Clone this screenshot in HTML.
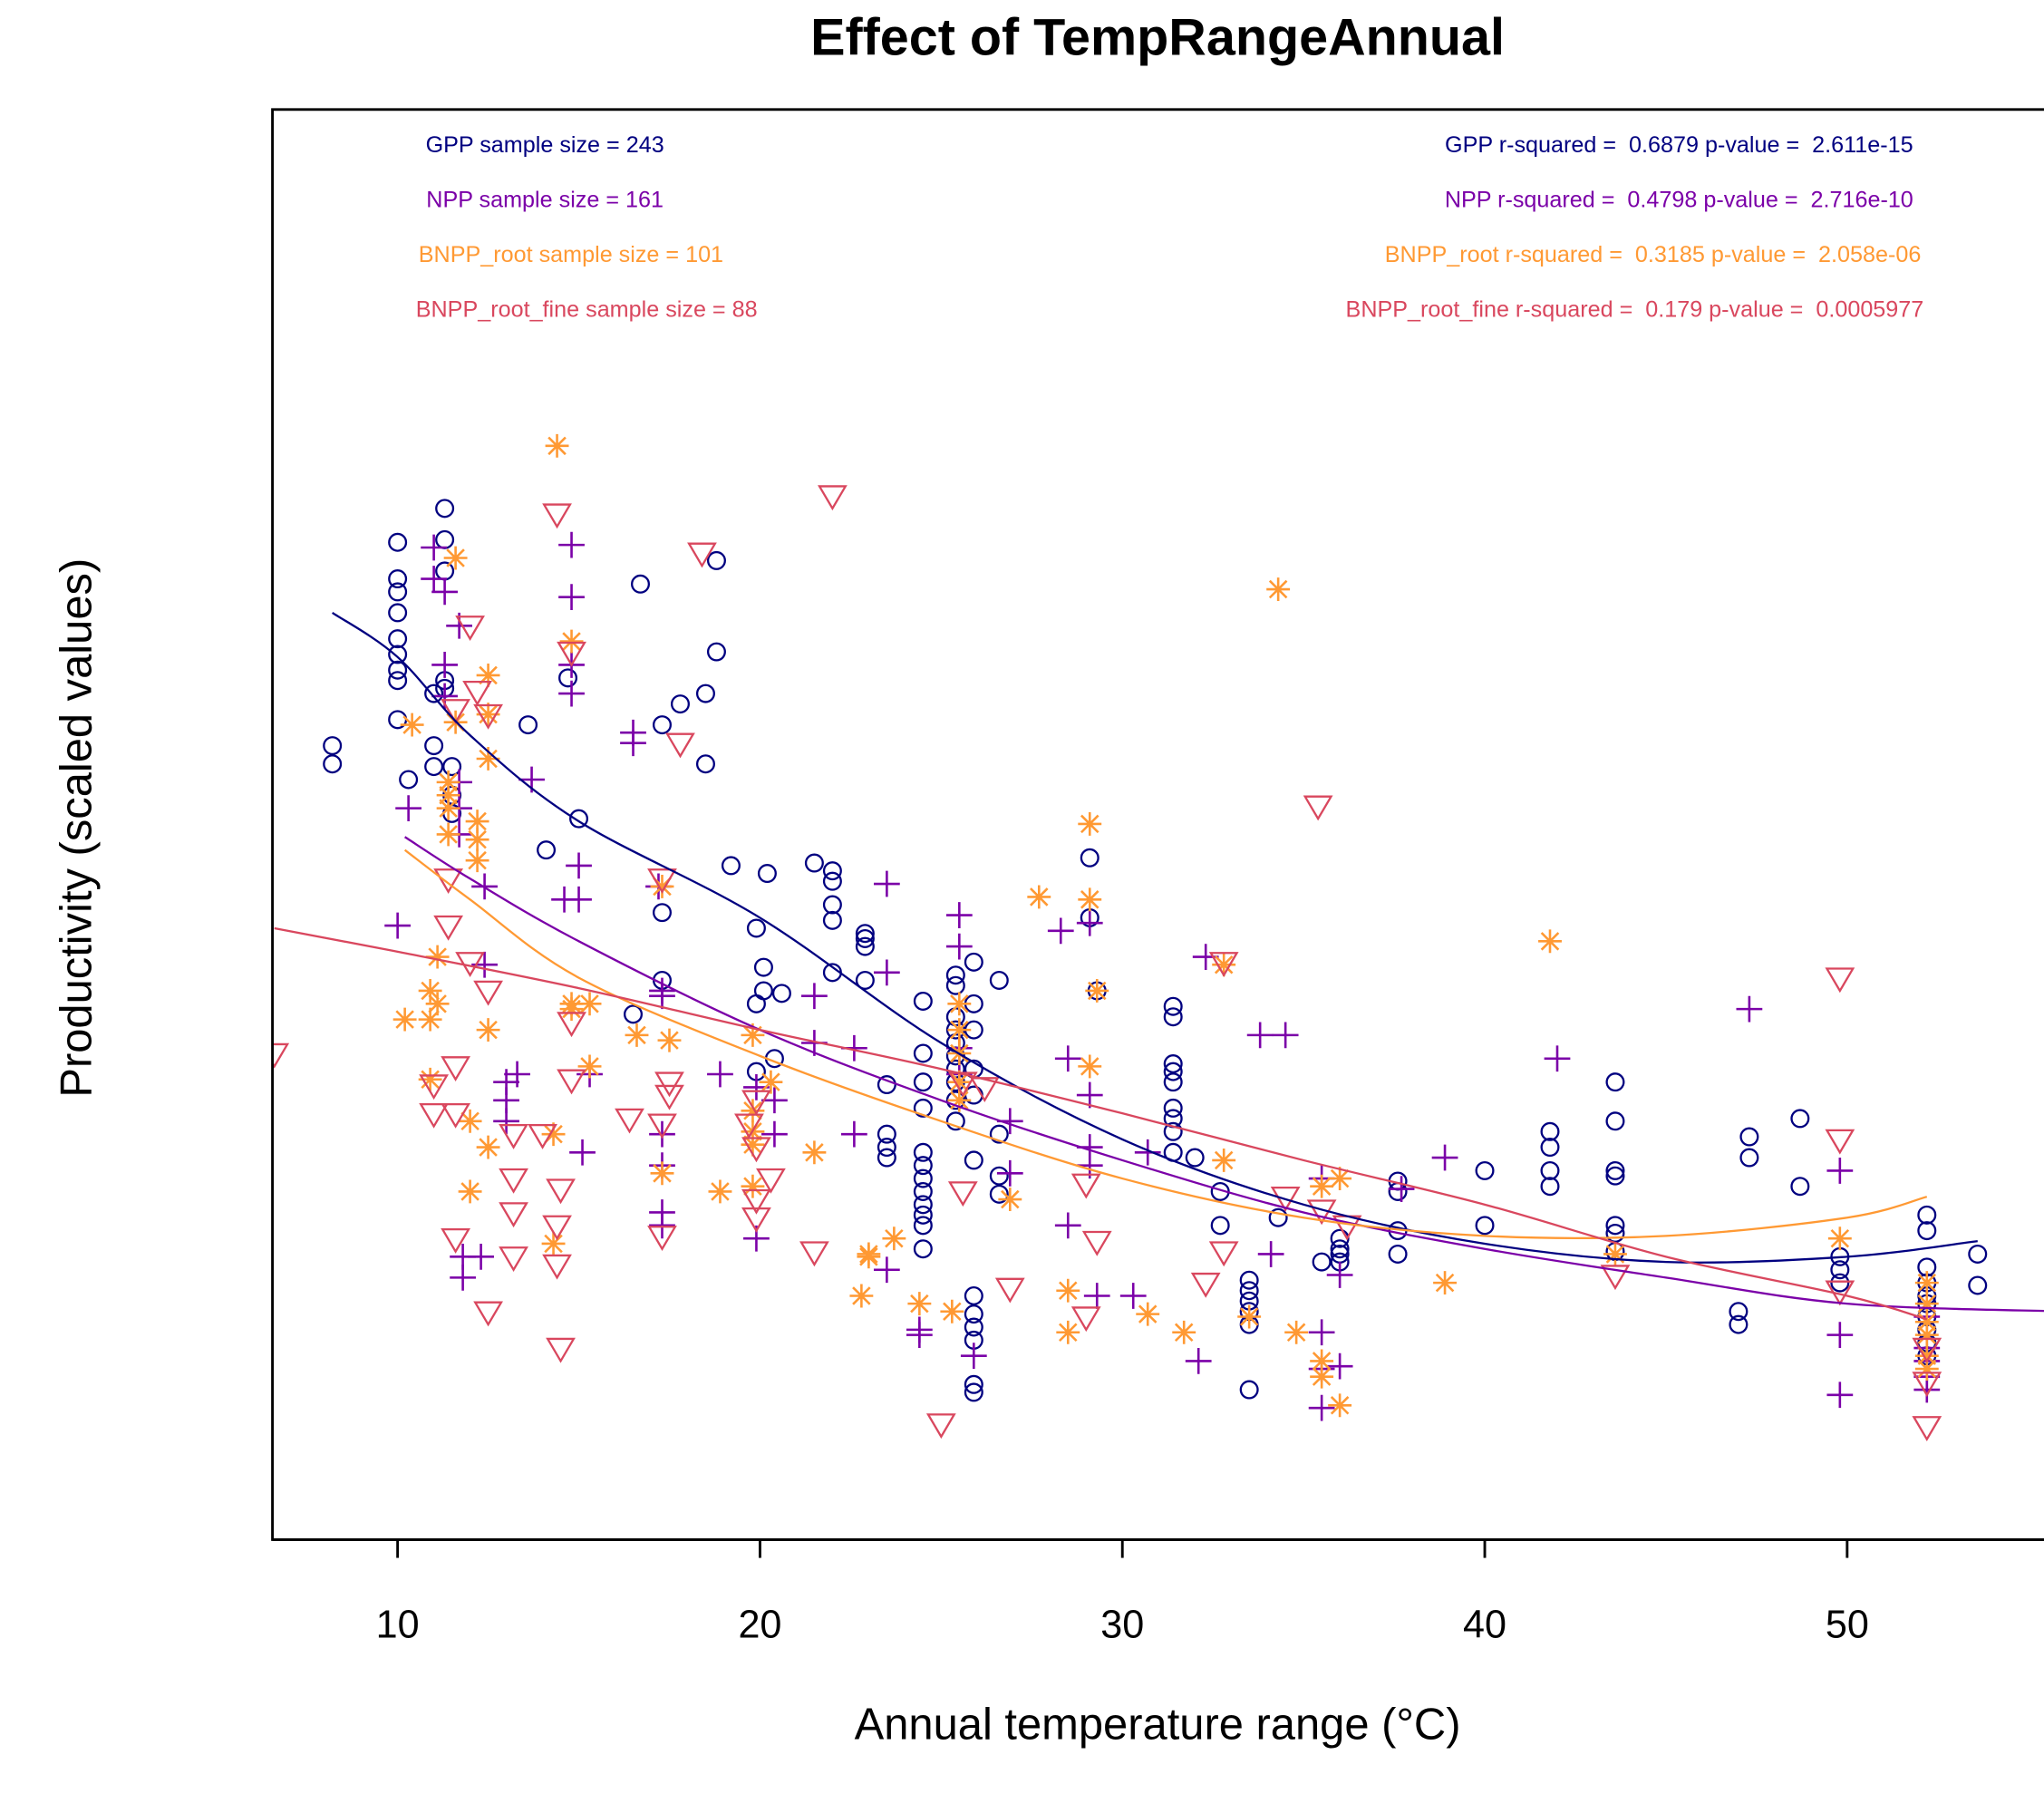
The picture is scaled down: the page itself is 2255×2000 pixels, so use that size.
<!DOCTYPE html>
<html><head><meta charset="utf-8"><style>
html,body{margin:0;padding:0;background:#fff}
svg{display:block;font-family:"Liberation Sans",sans-serif}
.pre{white-space:pre}
</style></head><body>
<svg id="chart" width="2255" height="2000" viewBox="0 0 1568 1390.7" xmlns="http://www.w3.org/2000/svg">
<rect width="1568" height="1391" fill="#fff"/>
<text x="888" y="42" font-size="40" font-weight="bold" text-anchor="middle">Effect of TempRangeAnnual</text>
<text x="888" y="1334" font-size="34" text-anchor="middle">Annual temperature range (°C)</text>
<text transform="translate(70,635) rotate(-90)" font-size="34" text-anchor="middle">Productivity (scaled values)</text>
<defs><clipPath id="clip"><rect x="209" y="84" width="1359" height="1097"/></clipPath></defs>
<g id="marks" clip-path="url(#clip)"></g>
<g id="curves" clip-path="url(#clip)"></g>
<g id="axis"></g>
<rect x="209" y="84" width="1400" height="1097" fill="none" stroke="#000" stroke-width="2"/>
<g font-size="17.5" class="pre">
<text class="pre" x="418" y="117" fill="#000080" text-anchor="middle">GPP sample size = 243</text>
<text class="pre" x="418" y="159" fill="#7b00a8" text-anchor="middle">NPP sample size = 161</text>
<text class="pre" x="438" y="201" fill="#ff9933" text-anchor="middle">BNPP_root sample size = 101</text>
<text class="pre" x="450" y="243" fill="#d9475e" text-anchor="middle">BNPP_root_fine sample size = 88</text>
<text class="pre" x="1288" y="117" fill="#000080" text-anchor="middle">GPP r-squared =  0.6879 p-value =  2.611e-15</text>
<text class="pre" x="1288" y="159" fill="#7b00a8" text-anchor="middle">NPP r-squared =  0.4798 p-value =  2.716e-10</text>
<text class="pre" x="1268" y="201" fill="#ff9933" text-anchor="middle">BNPP_root r-squared =  0.3185 p-value =  2.058e-06</text>
<text class="pre" x="1254" y="243" fill="#d9475e" text-anchor="middle">BNPP_root_fine r-squared =  0.179 p-value =  0.0005977</text>
</g>
</svg>
<script>
const xTicks=[10,20,30,40,50];
const gppX=[8.2,8.2,10,10,10,10,10,10,10,10,10,10.3,11,11,11,11.3,11.3,11.3,11.3,11.3,11.5,11.5,11.5,13.6,14.1,14.7,15,16.5,16.7,17.3,17.3,17.3,17.8,18.5,18.5,18.8,18.8,19.2,19.9,19.9,19.9,20.1,20.1,20.2,20.4,20.6,21.5,22,22,22,22,22,22.9,22.9,22.9,22.9,23.5,23.5,23.5,23.5,24.5,24.5,24.5,24.5,24.5,24.5,24.5,24.5,24.5,24.5,24.5,24.5,25.4,25.4,25.4,25.4,25.4,25.4,25.4,25.4,25.4,25.4,25.9,25.9,25.9,25.9,25.9,25.9,25.9,25.9,25.9,25.9,25.9,25.9,26.6,26.6,26.6,26.6,29.1,29.1,29.3,31.4,31.4,31.4,31.4,31.4,31.4,31.4,31.4,31.4,32,32.7,32.7,33.5,33.5,33.5,33.5,33.5,33.5,34.3,35.5,36,36,36,36,37.6,37.6,37.6,37.6,40,40,41.8,41.8,41.8,41.8,43.6,43.6,43.6,43.6,43.6,43.6,43.6,47,47,47.3,47.3,48.7,48.7,49.8,49.8,49.8,52.2,52.2,52.2,52.2,52.2,52.2,52.2,52.2,52.2,52.2,53.6,53.6];
const gppY=[2.39,2.32,3.17,3.03,2.98,2.9,2.8,2.74,2.68,2.64,2.49,2.26,2.59,2.39,2.31,3.3,3.18,3.06,2.64,2.61,2.31,2.2,2.13,2.47,1.99,2.65,2.11,1.36,3.01,2.47,1.75,1.49,2.55,2.59,2.32,3.1,2.75,1.93,1.69,1.4,1.14,1.54,1.45,1.9,1.19,1.44,1.94,1.91,1.87,1.78,1.72,1.52,1.67,1.65,1.62,1.49,1.09,0.9,0.85,0.81,1.41,1.21,1.1,1,0.83,0.78,0.73,0.68,0.63,0.59,0.55,0.46,1.51,1.47,1.35,1.3,1.25,1.2,1.15,1.1,1.03,0.95,1.56,1.4,1.3,1.15,1.05,0.8,0.28,0.21,0.16,0.11,-0.06,-0.09,1.49,0.9,0.74,0.67,1.96,1.73,1.45,1.39,1.35,1.17,1.14,1.1,1,0.96,0.91,0.83,0.81,0.68,0.55,0.34,0.3,0.26,0.22,0.17,-0.08,0.58,0.41,0.5,0.46,0.44,0.41,0.72,0.68,0.53,0.44,0.76,0.55,0.91,0.85,0.76,0.7,1.1,0.95,0.76,0.74,0.55,0.52,0.45,0.22,0.17,0.89,0.81,0.96,0.7,0.43,0.38,0.33,0.59,0.53,0.39,0.33,0.28,0.25,0.2,0.15,0.1,0.05,0.44,0.32];
const nppX=[10,10.3,11,11,11.3,11.3,11.3,11.7,11.7,11.7,11.7,12.4,12.4,13,13,13,11.8,11.8,12.3,13.7,14.6,15,15,14.8,14.8,14.8,14.8,15.1,15.3,13.3,16.5,16.5,17.3,17.3,17.3,17.3,17.3,17.3,17.2,18.9,19.9,19.9,20.4,20.4,21.5,21.5,22.6,22.6,23.5,23.5,23.5,24.4,24.4,25.5,25.5,25.5,25.5,25.9,26.9,26.9,28.3,28.5,28.5,29.1,29.1,29.1,29.1,29.3,30.3,30.7,32.3,32.1,33.8,34.5,34.1,35.5,35.5,35.5,35.5,36,36,37.7,38.9,42,47.3,49.8,49.8,49.8,52.2,52.2,52.2,52.2,52.2];
const nppY=[1.7,2.15,3.15,3.03,2.98,2.7,2.58,2.85,2.25,2.15,2.05,1.85,1.55,1.1,1.03,0.95,0.43,0.35,0.43,2.26,1.8,1.93,1.8,3.16,2.96,2.7,2.59,0.83,1.13,1.13,2.44,2.4,1.45,1.43,0.9,0.78,0.6,0.55,1.85,1.13,1.08,0.5,1.03,0.9,1.43,1.25,1.23,0.9,1.86,1.52,0.38,0.15,0.13,1.74,1.62,1.23,1.13,0.05,0.95,0.75,1.68,1.19,0.55,1.71,1.05,0.85,0.78,0.28,0.28,0.83,1.58,0.03,1.28,1.28,0.44,0.73,0.14,0,-0.15,0.36,0.01,0.69,0.81,1.19,1.38,0.76,0.13,-0.1,0.2,0.08,0.03,-0.03,-0.08];
const rootX=[10.2,10.4,10.9,10.9,10.9,11.1,11.1,11.4,11.4,11.4,11.4,11.6,11.6,12.2,12.2,12.2,12.5,12.5,12.5,12.5,12.5,12,12,14.4,14.8,14.8,14.8,14.3,14.3,15.3,15.3,16.6,17.3,17.3,17.5,18.9,19.8,19.8,19.8,19.8,19.8,20.3,21.5,22.8,23,23,23.7,24.4,25.5,25.5,25.5,25.5,25.5,25.3,26.9,27.7,28.5,28.5,29.1,29.1,29.1,29.3,30.7,31.7,32.8,32.8,33.5,34.3,34.8,35.5,35.5,35.5,36,36,38.9,41.8,43.6,49.8,52.2,52.2,52.2,52.2,52.2,52.2];
const rootY=[1.34,2.47,1.45,1.34,1.11,1.58,1.4,2.25,2.2,2.15,2.05,3.11,2.48,2.1,2.03,1.95,2.66,2.51,2.34,1.3,0.85,0.95,0.68,3.54,2.79,1.4,1.38,0.9,0.48,1.4,1.16,1.28,1.85,0.75,1.26,0.68,1.28,0.99,0.91,0.86,0.7,1.1,0.83,0.28,0.44,0.43,0.5,0.25,1.4,1.3,1.21,1.1,1.03,0.22,0.65,1.81,0.3,0.14,2.09,1.8,1.16,1.45,0.21,0.14,1.55,0.8,0.2,2.99,0.14,0.03,-0.03,0.7,-0.14,0.73,0.33,1.64,0.44,0.5,0.33,0.25,0.18,0.13,0.05,0];
const fineX=[6.6,11.4,11.4,11.6,11.6,11.6,11.6,11,11,12,12,12.5,12.5,12.5,12.2,13.2,13.2,13.2,13.2,14,14.4,14.4,14.4,14.5,14.5,14.8,14.8,14.8,16.4,17.3,17.3,17.3,17.5,17.5,18.4,17.8,19.7,19.9,19.9,19.9,19.9,20.3,21.5,22,25,25.6,25.6,26.2,26.9,29,29,29.3,32.3,32.8,32.8,34.5,35.4,35.5,36.2,43.6,49.8,49.8,49.8,52.2,52.2,52.2];
const fineY=[1.21,1.88,1.7,2.53,1.16,0.98,0.5,1.09,0.98,2.85,1.56,2.51,1.45,0.22,2.6,0.9,0.73,0.6,0.43,0.9,3.28,0.55,0.4,0.69,0.08,2.75,1.33,1.11,0.96,1.88,0.94,0.51,1.1,1.05,3.13,2.4,0.94,1.03,0.85,0.65,0.58,0.73,0.45,3.35,-0.21,1.1,0.68,1.08,0.31,0.71,0.2,0.49,0.33,1.56,0.45,0.66,2.16,0.61,0.55,0.36,1.5,0.88,0.3,0.08,-0.05,-0.22];
const gppFitX=[8.2,10,12,15,20,25,30,35,40,45,50,53.6];
const gppFitY=[2.9,2.73,2.43,2.1,1.73,1.25,0.88,0.63,0.48,0.41,0.43,0.49];
const nppFitX=[10.2,12,15,20,25,30,35,40,45,50,56];
const nppFitY=[2.04,1.88,1.64,1.3,1.03,0.8,0.6,0.46,0.35,0.25,0.22];
const rootFitX=[10.2,12,15,20,25,30,35,40,45,50,52.2];
const rootFitY=[1.99,1.8,1.5,1.2,0.95,0.73,0.58,0.51,0.51,0.58,0.66];
const fineFitX=[6.6,10,15,20,25,30,35,40,45,50,52.2];
const fineFitY=[1.69,1.6,1.46,1.3,1.15,0.98,0.8,0.63,0.43,0.28,0.19];

const NS='http://www.w3.org/2000/svg';
function xs(v){return 305+(v-10)*27.8;}
function ys(v){return 1050-v*200;}
const marks=document.getElementById('marks'),curves=document.getElementById('curves'),axis=document.getElementById('axis');
function mk(t,a,p){const e=document.createElementNS(NS,t);for(const k in a)e.setAttribute(k,a[k]);p.appendChild(e);return e;}
const C={gpp:'#000080',npp:'#7b00a8',root:'#ff9933',fine:'#d9475e'};
xTicks.forEach(t=>{
  const l=mk('line',{x1:xs(t),x2:xs(t),y1:1181,y2:1195,stroke:'#000','stroke-width':2},axis);
  
  
  const tx=mk('text',{x:xs(t),y:1256,'font-size':30,'text-anchor':'middle'},axis);
  tx.textContent=t;
  
  
});
mk('line',{x1:209,x2:1568,y1:1181,y2:1181,stroke:'#000','stroke-width':2},axis);
gppX.forEach((x,i)=>{
  const e=mk('circle',{cx:xs(x),cy:ys(gppY[i]),r:6.5,fill:'none',stroke:C.gpp,'stroke-width':1.6},marks);
  
  
});
nppX.forEach((x,i)=>{
  const cx=xs(x),cy=ys(nppY[i]);
  const e=mk('path',{d:`M${cx-10} ${cy}H${cx+10}M${cx} ${cy-10}V${cy+10}`,stroke:C.npp,'stroke-width':1.8,fill:'none'},marks);
  
  
});
rootX.forEach((x,i)=>{
  const cx=xs(x),cy=ys(rootY[i]),a=9,d=6.5;
  const e=mk('path',{d:`M${cx-a} ${cy}H${cx+a}M${cx} ${cy-a}V${cy+a}M${cx-d} ${cy-d}L${cx+d} ${cy+d}M${cx-d} ${cy+d}L${cx+d} ${cy-d}`,stroke:C.root,'stroke-width':1.8,fill:'none'},marks);
  
  
});
fineX.forEach((x,i)=>{
  const cx=xs(x),cy=ys(fineY[i]);
  const e=mk('path',{d:`M${cx-10} ${cy-7}L${cx+10} ${cy-7}L${cx} ${cy+10}Z`,stroke:C.fine,'stroke-width':1.6,fill:'none'},marks);
  
  
});
function curve(X,Y,col,name){
  const P=X.map((x,i)=>[xs(x),ys(Y[i])]);
  let d='M'+P[0][0]+' '+P[0][1];
  for(let i=0;i<P.length-1;i++){
    const p0=P[Math.max(0,i-1)],p1=P[i],p2=P[i+1],p3=P[Math.min(P.length-1,i+2)];
    const c1=[p1[0]+(p2[0]-p0[0])/6,p1[1]+(p2[1]-p0[1])/6];
    const c2=[p2[0]-(p3[0]-p1[0])/6,p2[1]-(p3[1]-p1[1])/6];
    d+=`C${c1[0]} ${c1[1]} ${c2[0]} ${c2[1]} ${p2[0]} ${p2[1]}`;
  }
  const e=mk('path',{d:d,stroke:col,'stroke-width':1.6,fill:'none'},curves);
  
  
}
curve(gppFitX,gppFitY,C.gpp,'gpp-fit-line');
curve(nppFitX,nppFitY,C.npp,'npp-fit-line');
curve(rootFitX,rootFitY,C.root,'bnpp-root-fit-line');
curve(fineFitX,fineFitY,C.fine,'bnpp-root-fine-fit-line');
</script>
</body></html>
